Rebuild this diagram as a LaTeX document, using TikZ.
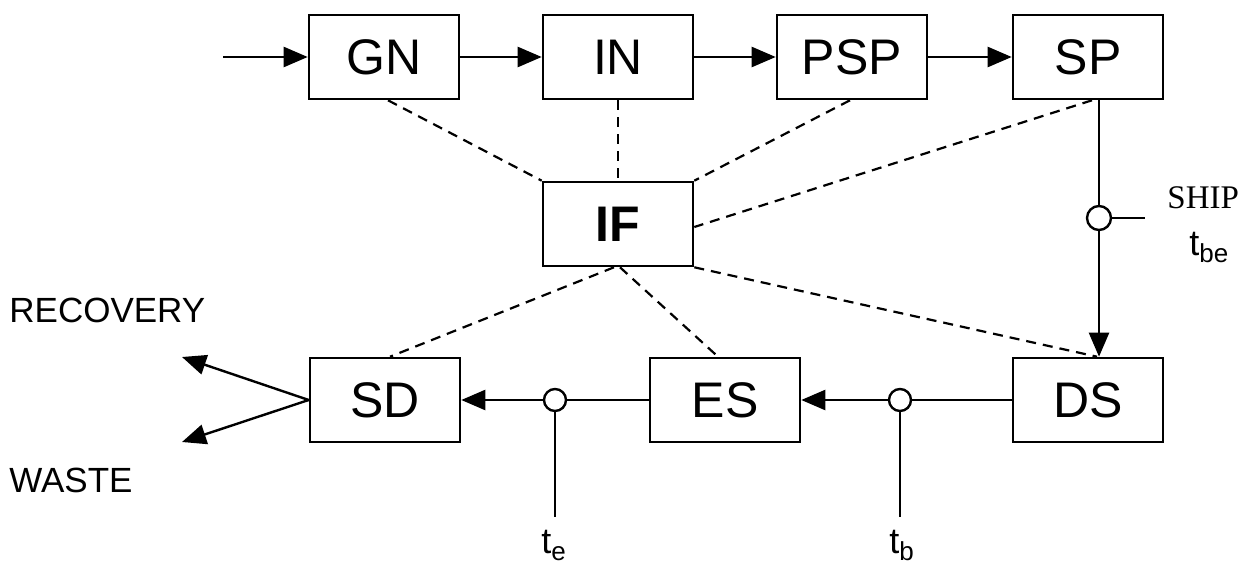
\documentclass[tikz,border=0pt]{standalone}
\usepackage{fontspec}
\setmainfont{Liberation Sans}
\newfontfamily\serifsh{Liberation Serif}
\usetikzlibrary{arrows.meta,calc}
\newcommand{\tsub}[1]{t\raisebox{-3.5pt}{\fontsize{13}{13}\selectfont #1}}
\begin{document}
\begin{tikzpicture}[x=0.5pt,y=-0.5pt,
  blk/.style={draw,line width=1.3pt,minimum width=75pt,minimum height=42pt,inner sep=0pt,font=\fontsize{25}{30}\selectfont},
  flow/.style={line width=1.2pt,-{Triangle[length=12pt,width=10pt]}},
  wire/.style={line width=1.2pt},
  link/.style={line width=1.1pt,dash pattern=on 5pt off 3.5pt},
  junc/.style={draw,circle,line width=1.2pt,minimum size=11pt,inner sep=0pt,fill=white},
  lbl/.style={inner sep=0pt,font=\fontsize{17.5}{20}\selectfont},
  tl/.style={inner sep=0pt,font=\fontsize{18}{20}\selectfont}]
\useasboundingbox (0,0) rectangle (1256,567);

\node[blk] (GN) at (384,57) {GN};
\node[blk] (IN) at (618,57) {IN};
\node[blk] (PSP) at (852,57) {PSP};
\node[blk] (SP) at (1088,57) {SP};
\node[blk,font=\fontsize{25}{30}\selectfont\bfseries] (IF) at (618,224) {IF};
\node[blk] (SD) at (385,400) {SD};
\node[blk] (ES) at (725,400) {ES};
\node[blk] (DS) at (1088,400) {DS};
\node[junc] (jte) at (555,400) {};
\node[junc] (jtb) at (900,400) {};
\node[junc,minimum size=12pt] (jsh) at (1099,218) {};
\coordinate (in0) at (223,57);
\coordinate (shipend) at (1145,218);
\coordinate (teend) at (555,517);
\coordinate (tbend) at (900,517);
\coordinate (rec) at (182,357);
\coordinate (wst) at (182,442);

\draw[flow] (in0) -- (GN);
\draw[flow] (GN) -- (IN);
\draw[flow] (IN) -- (PSP);
\draw[flow] (PSP) -- (SP);
\draw[wire] (SP.south -| jsh) -- (jsh);
\draw[flow] (jsh) -- (DS.north -| jsh);
\draw[wire] (jsh) -- (shipend);
\draw[wire] (DS) -- (jtb);
\draw[flow] (jtb) -- (ES);
\draw[wire] (jtb) -- (tbend);
\draw[wire] (ES) -- (jte);
\draw[flow] (jte) -- (SD);
\draw[wire] (jte) -- (teend);
\draw[flow] (SD.west) -- (rec);
\draw[flow] (SD.west) -- (wst);

\draw[link] ($(GN.south)+(4,0)$) -- (IF.north west);
\draw[link] (IN) -- (IF);
\draw[link] ($(PSP.south)+(-2,0)$) -- (IF.north east);
\draw[link] ($(SP.south)+(4,0)$) -- ($(IF.east)+(0,3)$);
\draw[link] (IF.south east) -- ($(DS.north)+(9,0)$);
\draw[link] ($(IF.south)+(2,0)$) -- ($(ES.north)+(-7,0)$);
\draw[link] ($(IF.south)+(-4,0)$) -- ($(SD.north)+(5,0)$);

\node[lbl,anchor=base west] (lrec) at (9,322) {RECOVERY};
\node[lbl,anchor=base west] (lwst) at (9,492) {WASTE};
\node[anchor=base west,inner sep=0pt,font=\serifsh\fontsize{16.5}{20}\selectfont] (lship) at (1167,208) {SHIP};
\node[tl,anchor=base west] (ltbe) at (1189,255) {\tsub{be}};
\node[tl,anchor=base west] (lte) at (541,553) {\tsub{e}};
\node[tl,anchor=base west] (ltb) at (889,553) {\tsub{b}};
\end{tikzpicture}
\end{document}
